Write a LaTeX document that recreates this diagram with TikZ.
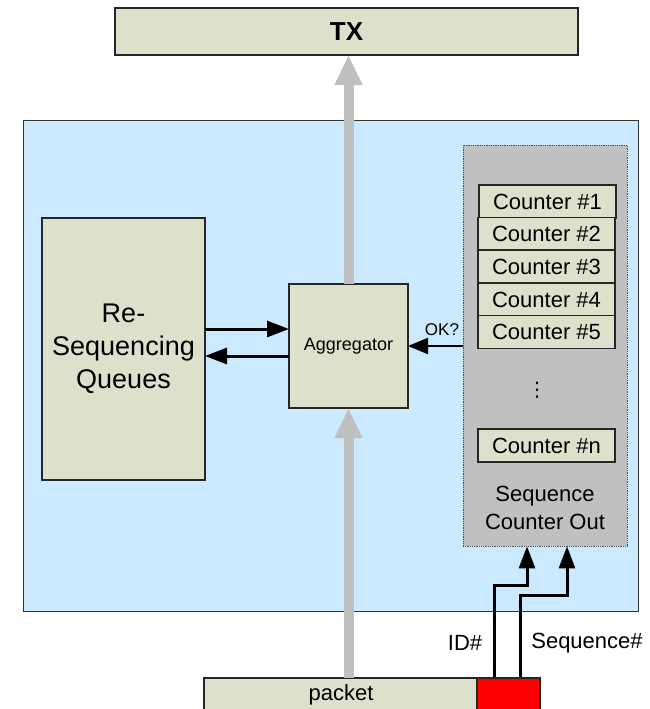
\documentclass[tikz,border=0pt]{standalone}
\usepackage{fontspec}
\setmainfont{Liberation Sans}
\newfontfamily\symfont{DejaVu Sans}
\usetikzlibrary{arrows.meta,calc}
\definecolor{boxfill}{HTML}{DDE1CB}
\definecolor{areafill}{HTML}{CCEAFF}
\definecolor{panelfill}{HTML}{C0C0C0}
\definecolor{flowgray}{HTML}{C0C0C0}
\tikzset{
  block/.style={draw=black!85, line width=1.2pt, fill=boxfill, inner sep=0pt, outer sep=0pt},
  counterbox/.style={block, minimum width=137pt, minimum height=33pt, font=\fontsize{22}{24}\selectfont},
  flow/.style={draw=flowgray, line width=10pt, -{Triangle[length=30pt,width=26pt]}},
  link/.style={draw=black, line width=3pt, -{Triangle[length=22pt,width=16pt]}},
  thinlink/.style={draw=black, line width=2pt, -{Triangle[length=20pt,width=16pt]}},
}
\begin{document}
\begin{tikzpicture}[x=1pt,y=-1pt]
\useasboundingbox (0,0) rectangle (650,709);

% output stage
\node[block, minimum width=463pt, minimum height=47pt, font=\fontsize{26}{28}\selectfont\bfseries] (tx) at (346.5,31.5) {TX};

% processing area
\node[draw=black!80, line width=1pt, fill=areafill, minimum width=615pt, minimum height=491pt, inner sep=0pt] (area) at (330.5,365.5) {};

% re-sequencing queues
\node[block, minimum width=163pt, minimum height=262pt, align=center, font=\fontsize{27}{33}\selectfont] (queues) at (123.5,349) {Re-\\Sequencing\\Queues};

% aggregator
\node[block, minimum width=119pt, minimum height=124pt, font=\fontsize{18}{20}\selectfont] (agg) at (348.5,346) {Aggregator};

% sequence counter panel
\node[draw=black!70, densely dotted, line width=0.8pt, fill=panelfill, minimum width=164pt, minimum height=401pt, inner sep=0pt] (panel) at (545,345.5) {};
\node[counterbox] (c1) at (547.5,201.5) {Counter \#1};
\node[counterbox] (c2) at (546.5,234) {Counter \#2};
\node[counterbox] (c3) at (546.5,266.5) {Counter \#3};
\node[counterbox] (c4) at (546.5,299.5) {Counter \#4};
\node[counterbox] (c5) at (546.5,332) {Counter \#5};
\node[font=\symfont\fontsize{20}{22}\selectfont] (dots) at (537,390) {⋮};
\node[counterbox] (cn) at (546.5,445.5) {Counter \#n};
\node[align=center, font=\fontsize{22}{28}\selectfont] (paneltitle) at (545,508) {Sequence\\Counter Out};

% incoming packet
\node[block, minimum width=274pt, minimum height=34pt, font=\fontsize{22}{24}\selectfont] (packet) at (341,695) {packet};
\node[draw=black!85, line width=1.2pt, fill=red, minimum width=63pt, minimum height=34pt, inner sep=0pt] (hdr) at (508.5,695) {};

% data path
\draw[flow] (packet.north -| agg.south) -- (agg.south);
\draw[flow] (agg.north) -- (agg.north |- tx.south);

% queue exchange
\draw[link] ($(queues.east)+(0,-20)$) -- ($(agg.west)+(0,-17)$);
\draw[link] ($(agg.west)+(0,10)$) -- ($(queues.east)+(0,7)$);

% counter check
\draw[thinlink] (panel.west |- 0,346) -- (agg.east |- 0,346);
\node[font=\fontsize{17}{19}\selectfont] (ok) at (442,330) {OK?};

% header fields
\coordinate (idsrc) at ($(hdr.north west)+(18,0)$);
\coordinate (seqsrc) at ($(hdr.north west)+(44,0)$);
\coordinate (idin) at ($(panel.south)+(-18,0)$);
\coordinate (seqin) at ($(panel.south)+(22,0)$);
\draw[link] (idsrc) |- ($(idin)+(0,39)$) -- (idin);
\draw[link] (seqsrc) |- ($(seqin)+(0,49)$) -- (seqin);
\node[font=\fontsize{22}{24}\selectfont] (idlbl) at (465,643) {ID\#};
\node[font=\fontsize{22}{24}\selectfont] (seqlbl) at (587,643) {Sequence\#};
\end{tikzpicture}
\end{document}
